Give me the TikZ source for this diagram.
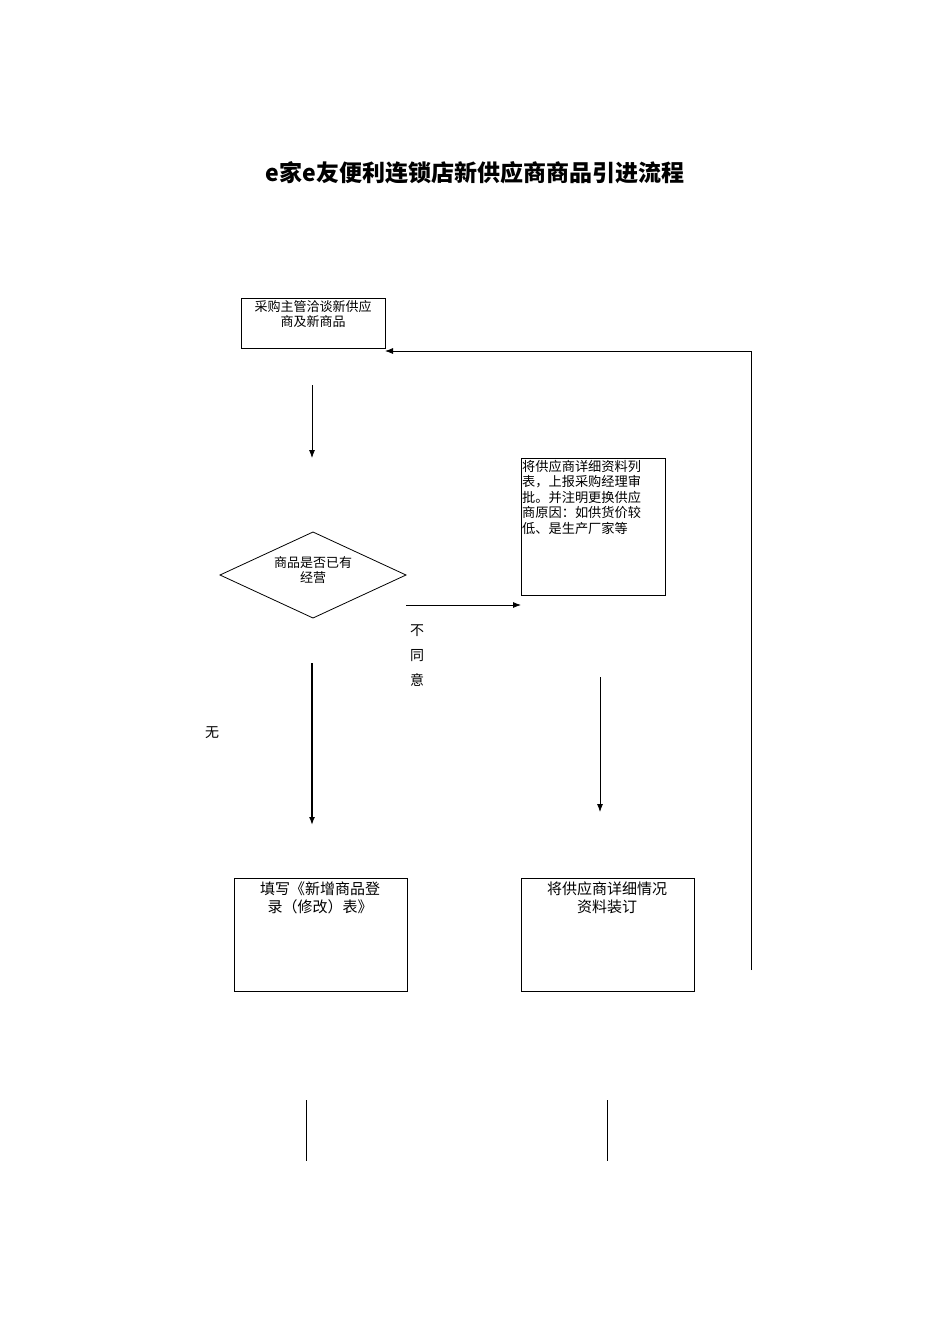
\documentclass[tikz,border=0pt]{standalone}
\usepackage{fontspec}
\newfontfamily\cjk{Noto Sans CJK SC}
\usetikzlibrary{arrows.meta}
\begin{document}
\begin{tikzpicture}[x=1pt,y=-1pt,
  box/.style={draw,line width=0.8pt},
  txt/.style={font=\cjk\fontsize{13}{15}\selectfont,align=center,inner sep=0pt,anchor=north},
  arr/.style={-{Latex[length=8pt,width=6pt]},line width=0.8pt}]
\useasboundingbox (0,0) rectangle (950,1344);
\node[font=\cjk\bfseries\fontsize{23}{26}\selectfont] (title) at (475,173) {e家e友便利连锁店新供应商商品引进流程};
\draw[box] (241,298) rectangle (385,348);
\node[txt] (t1) at (313,300) {采购主管洽谈新供应\\商及新商品};
\coordinate (b1r) at (385,351);
\coordinate (a1s) at (312,385); \coordinate (a1e) at (312,458);
\draw[arr] (a1s) -- (a1e);
\draw[box] (313,532) -- (406,575) -- (313,618) -- (220,575) -- cycle;
\node[txt] (t2) at (313,556) {商品是否已有\\经营};
\coordinate (a2s) at (406,605); \coordinate (a2e) at (521,605);
\draw[arr] (a2s) -- (a2e);
\node[txt,font=\cjk\fontsize{14}{25}\selectfont] (bty) at (417,625) {不\\同\\意};
\draw[box] (521,458) rectangle (665,595);
\node[txt,font=\cjk\fontsize{13.2}{15.5}\selectfont,align=left,anchor=north west] (t3) at (522,460) {将供应商详细资料列\\表，上报采购经理审\\批。并注明更换供应\\商原因：如供货价较\\低、是生产厂家等};
\coordinate (a3s) at (600,677); \coordinate (a3e) at (600,812);
\draw[arr] (a3s) -- (a3e);
\coordinate (a4s) at (312,663); \coordinate (a4e) at (312,825);
\draw[arr,line width=1.5pt] (a4s) -- (a4e);
\node[txt,font=\cjk\fontsize{14}{16}\selectfont] (wu) at (212,726) {无};
\draw[box] (234,878) rectangle (407,991);
\node[txt,font=\cjk\fontsize{15}{18}\selectfont] (t4) at (320,882) {填写《新增商品登\\录（修改）表》};
\draw[box] (521,878) rectangle (694,991);
\node[txt,font=\cjk\fontsize{15}{18}\selectfont] (t5) at (607,882) {将供应商详细情况\\资料装订};
\coordinate (r1) at (751,970); \coordinate (r2) at (751,351);
\draw[line width=0.8pt] (r1) -- (r2);
\draw[arr] (r2) -- (b1r);
\coordinate (l1) at (306,1100); \coordinate (l2) at (306,1161);
\coordinate (l3) at (607,1100); \coordinate (l4) at (607,1161);
\draw[line width=0.8pt] (l1) -- (l2);
\draw[line width=0.8pt] (l3) -- (l4);
\end{tikzpicture}
\end{document}
